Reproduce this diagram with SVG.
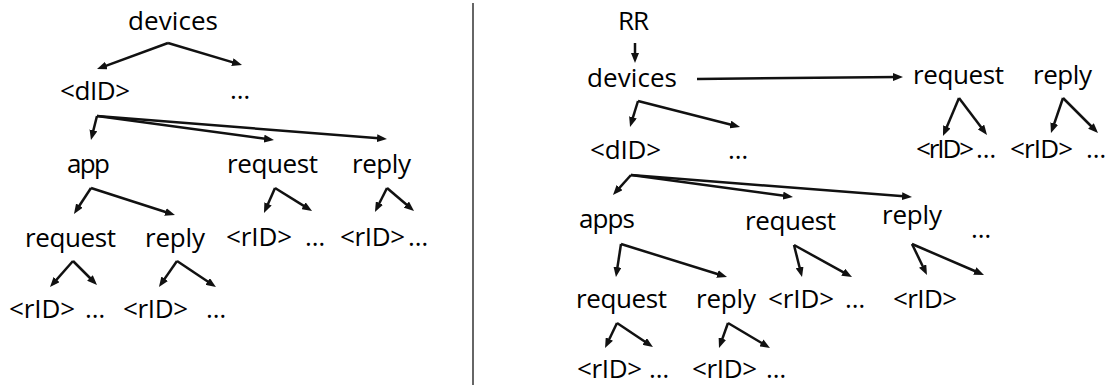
<svg xmlns="http://www.w3.org/2000/svg" width="1108" height="385" viewBox="0 0 1108 385">
<style>
text{font-family:"Open Sans","Noto Sans",sans-serif;font-size:26px;fill:#000}
.c line{stroke:#111;stroke-width:2.5;fill:none;marker-end:url(#ah)}
.div{stroke:#333;stroke-width:1.5}
</style>
<defs>
<marker id="ah" markerUnits="userSpaceOnUse" markerWidth="10" markerHeight="8" refX="5" refY="4" orient="auto" viewBox="0 0 10 8">
<path d="M0,0 L10,4 L0,8 z" fill="#111"/>
</marker>
</defs>
<rect width="1108" height="385" fill="#fff"/>
<line class="div" x1="473" y1="3" x2="473" y2="385"/>
<g id="left-tree">
<g id="l-devices"><text x="128" y="30" textLength="90">devices</text></g>
<g id="l-did"><text x="60" y="100" textLength="70">&lt;dID&gt;</text></g>
<g id="l-dots1"><text x="230" y="99">…</text></g>
<g id="l-app"><text x="67" y="173" textLength="43">app</text></g>
<g id="l-request"><text x="227" y="173" textLength="91">request</text></g>
<g id="l-reply"><text x="352" y="173" textLength="59">reply</text></g>
<g id="l-app-request"><text x="25" y="247" textLength="91">request</text></g>
<g id="l-app-reply"><text x="145" y="247" textLength="60">reply</text></g>
<g id="l-req-rid"><text x="226" y="246" textLength="66">&lt;rID&gt;</text><text x="305" y="246">…</text></g>
<g id="l-rep-rid"><text x="340" y="246" textLength="65">&lt;rID&gt;</text><text x="408" y="246">…</text></g>
<g id="l-app-req-rid"><text x="9" y="318" textLength="66">&lt;rID&gt;</text><text x="85" y="318">…</text></g>
<g id="l-app-rep-rid"><text x="123" y="318" textLength="65">&lt;rID&gt;</text><text x="206" y="318">…</text></g>
</g>
<g id="right-tree">
<g id="r-rr"><text x="618" y="30" textLength="31">RR</text></g>
<g id="r-devices"><text x="587" y="87" textLength="90">devices</text></g>
<g id="r-top-request"><text x="913" y="84" textLength="91">request</text></g>
<g id="r-top-reply"><text x="1033" y="84" textLength="59">reply</text></g>
<g id="r-did"><text x="590" y="159" textLength="71">&lt;dID&gt;</text></g>
<g id="r-dots1"><text x="728" y="159">…</text></g>
<g id="r-top-req-rid"><text x="916" y="158" textLength="58">&lt;rID&gt;</text><text x="976" y="158">…</text></g>
<g id="r-top-rep-rid"><text x="1010" y="158" textLength="63">&lt;rID&gt;</text><text x="1086" y="158">…</text></g>
<g id="r-apps"><text x="579" y="228" textLength="56">apps</text></g>
<g id="r-request"><text x="745" y="230" textLength="91">request</text></g>
<g id="r-reply"><text x="882" y="224" textLength="60">reply</text></g>
<g id="r-dots2"><text x="971" y="238">…</text></g>
<g id="r-apps-request"><text x="576" y="308" textLength="91">request</text></g>
<g id="r-apps-reply"><text x="696" y="308" textLength="60">reply</text></g>
<g id="r-req-rid"><text x="768" y="308" textLength="66">&lt;rID&gt;</text><text x="845" y="308">…</text></g>
<g id="r-rep-rid"><text x="893" y="308" textLength="64">&lt;rID&gt;</text></g>
<g id="r-apps-req-rid"><text x="577" y="378" textLength="65">&lt;rID&gt;</text><text x="649" y="378">…</text></g>
<g id="r-apps-rep-rid"><text x="692" y="378" textLength="65">&lt;rID&gt;</text><text x="766" y="378">…</text></g>
</g>
<g id="connectors" class="c">
<line x1="168" y1="43" x2="101.7" y2="67.3"/>
<line x1="168" y1="43" x2="237.2" y2="63.6"/>
<line x1="97" y1="116" x2="92.2" y2="135.1"/>
<line x1="97" y1="116" x2="269" y2="139.3"/>
<line x1="97" y1="116" x2="382" y2="138.6"/>
<line x1="91" y1="188" x2="76.7" y2="209.8"/>
<line x1="91" y1="188" x2="170.2" y2="213.5"/>
<line x1="275" y1="188" x2="266" y2="208.4"/>
<line x1="275" y1="188" x2="307.8" y2="208.4"/>
<line x1="387" y1="188" x2="377.2" y2="207.5"/>
<line x1="387" y1="188" x2="410.2" y2="207.8"/>
<line x1="73" y1="261" x2="53.3" y2="283.3"/>
<line x1="73" y1="261" x2="93.5" y2="281.5"/>
<line x1="177" y1="261" x2="161.8" y2="282.9"/>
<line x1="177" y1="261" x2="211.8" y2="284.2"/>
<line x1="635" y1="43" x2="635" y2="58"/>
<line x1="697" y1="79" x2="898" y2="77"/>
<line x1="638" y1="101" x2="631.5" y2="122.2"/>
<line x1="638" y1="101" x2="735.2" y2="125.8"/>
<line x1="959" y1="98" x2="944.9" y2="131.4"/>
<line x1="959" y1="98" x2="984" y2="131"/>
<line x1="1063" y1="98" x2="1052.6" y2="128.3"/>
<line x1="1063" y1="98" x2="1094.5" y2="129.5"/>
<line x1="631" y1="175" x2="616.3" y2="191.3"/>
<line x1="631" y1="175" x2="788" y2="196.3"/>
<line x1="631" y1="175" x2="907" y2="196.6"/>
<line x1="621" y1="244" x2="616.7" y2="272.1"/>
<line x1="621" y1="244" x2="722.2" y2="275.5"/>
<line x1="794" y1="245" x2="800.8" y2="272.2"/>
<line x1="794" y1="245" x2="847.6" y2="274.6"/>
<line x1="912" y1="244" x2="924.8" y2="270.5"/>
<line x1="912" y1="244" x2="979.4" y2="273"/>
<line x1="617" y1="323" x2="607.2" y2="343.5"/>
<line x1="617" y1="323" x2="648.8" y2="344.2"/>
<line x1="728" y1="323" x2="720.7" y2="343.3"/>
<line x1="728" y1="323" x2="765.7" y2="345.4"/>
</g>
</svg>
